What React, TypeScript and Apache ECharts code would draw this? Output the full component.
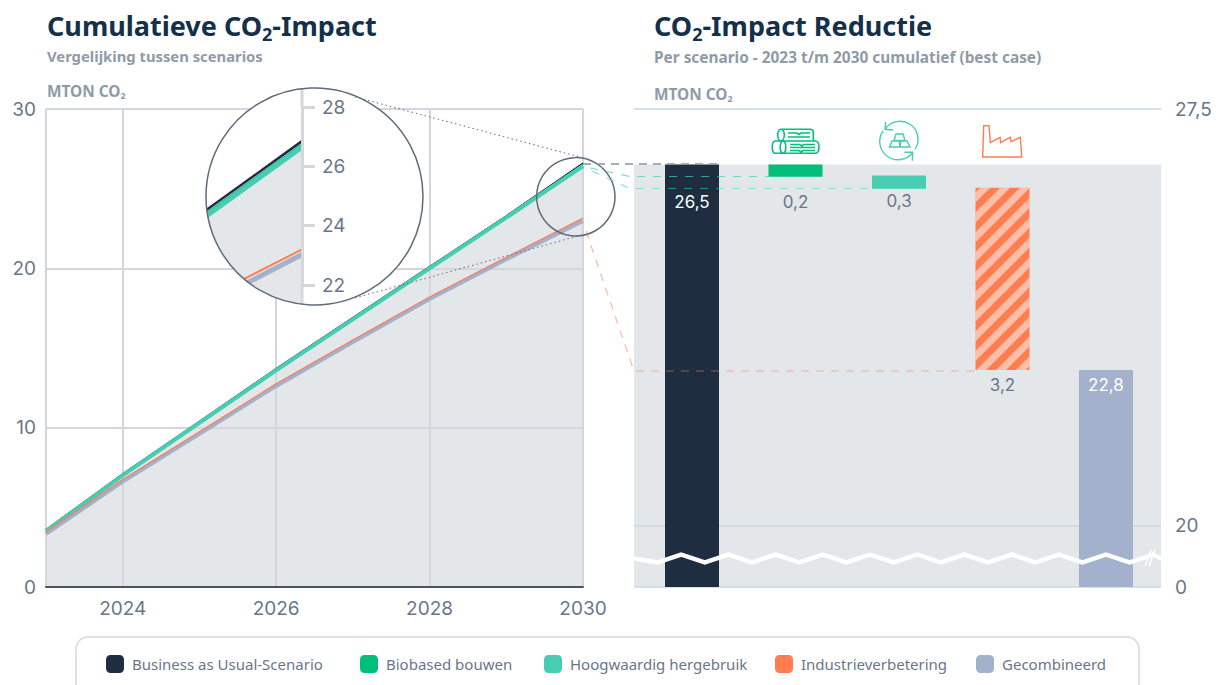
import React, { useEffect, useRef } from "react";
import * as echarts from "echarts";

const years = ["2023", "2024", "2025", "2026", "2027", "2028", "2029", "2030"];
const bau = [3.6, 7.1, 10.4, 13.7, 16.9, 20.1, 23.3, 26.6];
const biobased = [3.57, 7.06, 10.36, 13.66, 16.86, 20.06, 23.26, 26.52];
const hergebruik = [3.5, 7.0, 10.3, 13.6, 16.8, 20.0, 23.18, 26.42];
const industrie = [3.45, 6.75, 9.75, 12.75, 15.5, 18.2, 20.7, 23.15];
const gecombineerd = [3.33, 6.62, 9.62, 12.62, 15.37, 18.07, 20.57, 22.98];

const names = ["Business as Usual-Scenario", "Biobased bouwen", "Hoogwaardig hergebruik", "Industrieverbetering", "Gecombineerd"];
const colors = ["#1e2d40", "#00bf7d", "#47ceb2", "#ff7d4f", "#a3b1cd"];
const legendLefts = [101, 355, 539, 770, 971];

const lensYears = [2029, 2030];
const lensBau = [23.4, 26.85];
const lensBio = [23.3, 26.75];
const lensHer = [23.2, 26.65];
const lensInd = [20.75, 23.2];
const lensCom = [20.55, 23.03];

const reductionLabels = [26.5, 0.2, 0.3, 3.2, 22.8];
const reductionHeights = [26.5, 0.22, 0.235, 3.28, 22.8];
const reductionBase = [0, 26.28, 26.065, 22.8, 0];
const rightTicks = [0, 20, 27.5];

const FONT = "'Noto Sans', sans-serif";
const NUM = "Inter, sans-serif";
const TEXT = "#69768a";
const TITLE = "#14304a";
const MUTED = "#8f9ba6";
const GRID = "#d3d6dc";
const RIGHT_LINE = "#c8d7e3";
const AREA = "#e4e7ea";

const logs =
  "M781 129.3H810Q813.3 129.3 813.3 132V140.7M781 129.3A3.3 5.8 0 0 0 781 140.9A3.3 5.8 0 0 0 781 129.3" +
  "M788 133H797L799 134.5L801 133H810M788 137H810" +
  "M775 141H815Q819 141 819 147Q819 153.3 815 153.3H775A3.2 6.2 0 0 1 775 141" +
  "M783 141A3.2 6.2 0 0 0 783 153.3A3.2 6.2 0 0 0 783 141" +
  "M790 144.5H800L802 146L804 144.5H815M790 147.5H815M790 150.5H799L801 152L803 150.5H815";
const recycle =
  "M885 129.3A18 18 0 0 1 915 149.3M885.7 121.7L885 129.3L893.3 130M912.7 152.3A18 18 0 0 1 883.3 130.7" +
  "M912.3 160.7L912.7 152.3L904.3 152.3" +
  "M896 134H903L905 140.5H894ZM892 141H899L900 147H889.5ZM901 141H907L910 147H900Z";
const factory =
  "M982.7 157L983.7 125.7H989L990.3 142.7L1000 137.3L1000.7 142.7L1010.3 137.3L1011 141.7L1020.3 137.3L1021.7 157Z";

echarts.graphic.registerShape("logsIcon", echarts.graphic.extendPath(logs, {}) as any);
echarts.graphic.registerShape("recycleIcon", echarts.graphic.extendPath(recycle, {}) as any);
echarts.graphic.registerShape("factoryIcon", echarts.graphic.extendPath(factory, {}) as any);

const axisBreak = [{ start: 0.5, end: 19.42, gap: 0.03 }];

const headerRich = {
  subLg: { fontSize: 18, fontWeight: "bold", fontFamily: FONT, color: TITLE, padding: [18, 0, 0, 0] },
};
const unitRich = {
  subSm: { fontSize: 9, fontWeight: "bold", fontFamily: FONT, color: MUTED, padding: [9, 0, 0, 0] },
};

function header(text: string, left: number, top: number) {
  return {
    text,
    left,
    top,
    padding: 0,
    textStyle: { fontSize: 27, fontWeight: "bold", fontFamily: FONT, color: TITLE, rich: headerRich },
  };
}
function small(text: string, left: number, top: number, fontSize: number, rich?: object) {
  return {
    text,
    left,
    top,
    padding: 0,
    textStyle: { fontSize, fontWeight: "bold", fontFamily: FONT, color: MUTED, rich: rich || {} },
  };
}

function makeOption() {
  const lensCx = 314.5;
  const lensCy = 196.5;
  const lensR = 108.5;
  return {
    animation: false,
    backgroundColor: "#fff",
    title: [
      header("Cumulatieve CO{subLg|2}-Impact", 47, 7),
      header("CO{subLg|2}-Impact Reductie", 654, 7),
      small("Vergelijking tussen scenarios", 47, 48, 14.8),
      small("Per scenario - 2023 t/m 2030 cumulatief (best case)", 654, 50, 15.4),
      small("MTON CO{subSm|2}", 47, 82, 15.4, unitRich),
      small("MTON CO{subSm|2}", 654, 85, 15.4, unitRich),
    ],
    legend: names.map((name, i) => ({
      left: legendLefts[i],
      top: 650,
      itemWidth: 18,
      itemHeight: 18,
      icon: "roundRect",
      selectedMode: false,
      data: [name],
      textStyle: { color: TEXT, fontSize: 15, fontFamily: FONT, padding: [0, 0, 0, 3] },
    })),
    grid: [
      { left: 46, top: 109, width: 537, height: 478 },
      { left: 160, top: 107, width: 142, height: 178 },
      { left: 634, top: 109, width: 527, height: 478 },
    ],
    xAxis: [
      {
        type: "category",
        gridIndex: 0,
        data: years,
        boundaryGap: false,
        z: 1.5,
        axisLine: { lineStyle: { color: "#4a5462", width: 2 } },
        axisTick: { show: false },
        axisLabel: {
          color: TEXT,
          fontSize: 19,
          fontFamily: NUM,
          margin: 12,
          interval: (i: number) => i % 2 === 1,
        },
        splitLine: {
          show: true,
          lineStyle: { color: GRID, width: 2 },
          interval: (i: number) => i % 2 === 1 || i === 0,
        },
      },
      { type: "value", gridIndex: 1, show: false, min: 2029, max: 2030, splitLine: { show: false } },
      { type: "value", gridIndex: 2, show: false, min: -0.5604, max: 4.5314, splitLine: { show: false } },
    ],
    yAxis: [
      {
        type: "value",
        gridIndex: 0,
        min: 0,
        max: 30,
        interval: 10,
        z: 1.5,
        axisLine: { show: false },
        axisTick: { show: false },
        axisLabel: { color: TEXT, fontSize: 19, fontFamily: NUM, margin: 10 },
        splitLine: { show: true, lineStyle: { color: GRID, width: 2 } },
      },
      {
        type: "value",
        gridIndex: 1,
        position: "right",
        min: 22,
        max: 28,
        interval: 2,
        z: 4,
        axisLine: { show: true, lineStyle: { color: "#d5d7dc", width: 3 } },
        axisTick: { show: true, length: 13, lineStyle: { color: "#d5d7dc", width: 3 } },
        axisLabel: { color: TEXT, fontSize: 19, fontFamily: NUM, margin: 20 },
        splitLine: { show: false },
      },
      {
        type: "value",
        gridIndex: 2,
        position: "right",
        min: 0,
        max: 27.5,
        z: 1.5,
        breaks: axisBreak,
        breakArea: { show: false },
        axisLine: { show: false },
        axisTick: { show: false, customValues: rightTicks },
        axisLabel: {
          color: TEXT,
          fontSize: 19,
          fontFamily: NUM,
          margin: 14,
          customValues: rightTicks,
          formatter: (v: number) => String(v).replace(".", ","),
        },
        splitLine: { show: true, lineStyle: { color: RIGHT_LINE, width: 1.5 } },
      },
      {
        type: "value",
        gridIndex: 2,
        position: "right",
        min: 0,
        max: 27.5,
        z: 6,
        breaks: axisBreak,
        breakArea: {
          zigzagAmplitude: 4,
          zigzagMinSpan: 23.6,
          zigzagMaxSpan: 23.6,
          itemStyle: { color: "#fff", borderColor: "#fff", borderWidth: 2.5, borderType: "solid", opacity: 1 },
        },
        axisLine: { show: false },
        axisTick: { show: false },
        axisLabel: { show: false },
        splitLine: { show: false },
      },
    ],
    series: [
      {
        name: "area",
        type: "line",
        data: bau,
        z: 1,
        showSymbol: false,
        lineStyle: { width: 0 },
        itemStyle: { color: AREA },
        areaStyle: { color: AREA, opacity: 1 },
      },
      ...[
        [names[0], bau, colors[0], 1.5],
        [names[1], biobased, colors[1], 1.5],
        [names[2], hergebruik, colors[2], 4],
        [names[4], gecombineerd, colors[4], 4],
        [names[3], industrie, colors[3], 1.2],
      ].map(([name, data, color, width]) => ({
        name,
        type: "line",
        data,
        z: 2,
        showSymbol: false,
        itemStyle: { color },
        lineStyle: { color, width },
      })),
      {
        name: "lens",
        type: "custom",
        xAxisIndex: 1,
        yAxisIndex: 1,
        z: 3,
        silent: true,
        data: [[0]],
        renderItem: (_p: any, api: any) => {
          const pts = (vals: number[]) => lensYears.map((y, i) => api.coord([y, vals[i]]));
          const seg = (vals: number[], stroke: string, lineWidth: number) => ({
            type: "polyline",
            shape: { points: pts(vals) },
            style: { stroke, lineWidth, fill: "none" },
          });
          const top = pts(lensBau);
          const bottomR = api.coord([2030, 20]);
          const bottomL = api.coord([2029, 20]);
          return {
            type: "group",
            clipPath: { type: "circle", shape: { cx: lensCx, cy: lensCy, r: lensR } },
            children: [
              { type: "rect", shape: { x: lensCx - lensR, y: lensCy - lensR, width: 2 * lensR, height: 2 * lensR }, style: { fill: "#fff" } },
              { type: "polygon", shape: { points: [top[0], top[1], bottomR, bottomL] }, style: { fill: AREA } },
              seg(lensBau, colors[0], 2.5),
              seg(lensBio, colors[1], 1.5),
              seg(lensHer, colors[2], 5),
              seg(lensCom, colors[4], 5),
              seg(lensInd, colors[3], 2),
            ],
          };
        },
      },
      {
        name: "basis",
        type: "bar",
        xAxisIndex: 2,
        yAxisIndex: 2,
        stack: "w",
        barWidth: 54,
        z: 1,
        encode: { x: 1, y: 0 },
        itemStyle: { color: "transparent" },
        data: reductionBase.map((v, i) => [v, i]),
        markArea: {
          silent: true,
          itemStyle: { color: AREA },
          data: [[{ xAxis: -0.5604, yAxis: 26.5 }, { xAxis: 4.5314, yAxis: 0 }]],
        },
      },
      {
        name: "reductie",
        type: "bar",
        xAxisIndex: 2,
        yAxisIndex: 2,
        stack: "w",
        barWidth: 54,
        z: 2,
        encode: { x: 1, y: 0 },
        data: reductionHeights.map((v, i) => ({
          value: [v, i],
          itemStyle:
            i === 3
              ? {
                  color: colors[3],
                  decal: {
                    symbol: "rect",
                    symbolSize: 1,
                    rotation: -Math.PI / 4,
                    color: "rgba(255,255,255,0.5)",
                    dashArrayX: [1, 0],
                    dashArrayY: [7, 7],
                  },
                }
              : { color: colors[i] },
          label: {
            show: true,
            position: i === 0 || i === 4 ? "insideTop" : "bottom",
            distance: [29, 17, 4, 7, 7][i],
            color: i === 0 || i === 4 ? "#fff" : TEXT,
            fontSize: 17,
            fontFamily: NUM,
            formatter: () => String(reductionLabels[i]).replace(".", ","),
          },
        })),
      },
    ],
    graphic: {
      elements: [
        { type: "rect", shape: { x: 76, y: 637, width: 1063, height: 70, r: 12 }, style: { fill: "none", stroke: "#d5d8dc", lineWidth: 1.5 } },
        { type: "rect", shape: { x: 300.5, y: 88, width: 3, height: 19 }, style: { fill: "#d5d7dc" } },
        { type: "rect", shape: { x: 300.5, y: 285, width: 3, height: 20 }, style: { fill: "#d5d7dc" } },
        { type: "circle", shape: { cx: lensCx, cy: lensCy, r: lensR }, style: { fill: "none", stroke: "#5f6b7a", lineWidth: 1.5 } },
        { type: "circle", shape: { cx: 575.8, cy: 196.8, r: 39.2 }, style: { fill: "none", stroke: "#5f6b7a", lineWidth: 1.5 } },
        { type: "line", shape: { x1: 355, y1: 97, x2: 580, y2: 157 }, style: { stroke: "#5f6b7a", lineWidth: 1, lineDash: [1.5, 3] } },
        { type: "line", shape: { x1: 355, y1: 298, x2: 578, y2: 236 }, style: { stroke: "#5f6b7a", lineWidth: 1, lineDash: [1.5, 3] } },
        { type: "polyline", shape: { points: [[583, 164], [720, 164]] }, style: { stroke: "#8a94a0", lineWidth: 1.5, lineDash: [8, 6], fill: "none" } },
        { type: "polyline", shape: { points: [[590, 168], [630, 176.5], [770, 176.5]] }, style: { stroke: "#47ceb2", opacity: 0.7, lineWidth: 1.2, lineDash: [8, 8], fill: "none" } },
        { type: "polyline", shape: { points: [[592, 171], [630, 188.5], [872, 188.5]] }, style: { stroke: "#47ceb2", opacity: 0.6, lineWidth: 1.2, lineDash: [8, 8], fill: "none" } },
        { type: "polyline", shape: { points: [[586, 231], [634, 371], [975, 371]] }, style: { stroke: "#ff7d4f", opacity: 0.55, lineWidth: 1.2, lineDash: [8, 7], fill: "none" } },
        { type: "line", shape: { x1: 1145, y1: 566, x2: 1151, y2: 550 }, style: { stroke: "#fff", lineWidth: 1.5 } },
        { type: "line", shape: { x1: 1149, y1: 566, x2: 1155, y2: 550 }, style: { stroke: "#fff", lineWidth: 1.5 } },
        { type: "logsIcon", style: { fill: "none", stroke: colors[1], lineWidth: 1.6 } },
        { type: "recycleIcon", style: { fill: "none", stroke: colors[2], lineWidth: 1.4 } },
        { type: "factoryIcon", style: { fill: "none", stroke: colors[3], lineWidth: 1.4 } },
      ].map((el) => ({ ...el, z: 20 })),
    },
  };
}

export default function App() {
  const ref = useRef<HTMLDivElement>(null);
  useEffect(() => {
    const chart = echarts.init(ref.current!, undefined, { renderer: "svg" });
    chart.setOption(makeOption() as any);
    return () => chart.dispose();
  }, []);
  return <div ref={ref} style={{ position: "absolute", left: 0, top: 0, width: 1216, height: 685 }} />;
}
